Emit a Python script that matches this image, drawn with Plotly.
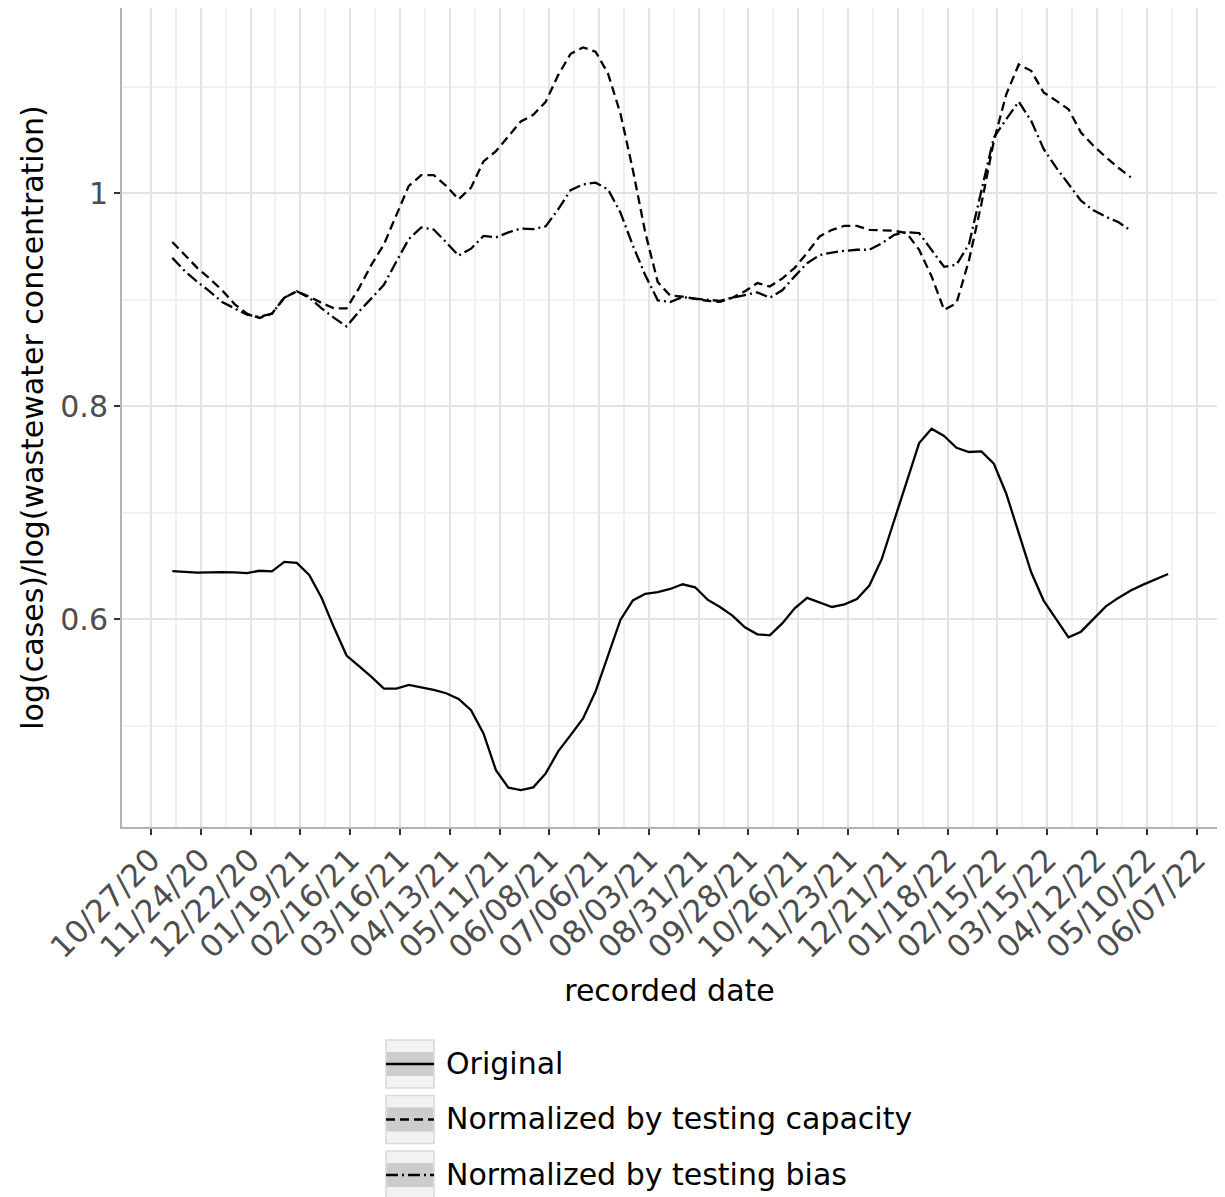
import pandas as pd
import plotly.graph_objects as go

# ---------------- data ----------------
start_date = "2020-11-08"          # first weekly observation
n_weeks_original = 81
n_weeks_normalized = 78

original = [
    0.6453, 0.6442, 0.6438, 0.6440, 0.6444, 0.6440, 0.6434, 0.6456, 0.6450, 0.6540,
    0.6530, 0.6416, 0.6200, 0.5920, 0.5660, 0.5560, 0.5460, 0.5350, 0.5350, 0.5384,
    0.5360, 0.5338, 0.5306, 0.5253, 0.5147, 0.4928, 0.4584, 0.4419, 0.4397, 0.4422,
    0.4553, 0.4760, 0.4913, 0.5069, 0.5322, 0.5656, 0.5994, 0.6178, 0.6240, 0.6256,
    0.6285, 0.6329, 0.6301, 0.6185, 0.6115, 0.6035, 0.5925, 0.5859, 0.5850, 0.5962,
    0.6103, 0.6201, 0.6160, 0.6116, 0.6141, 0.6191, 0.6317, 0.6567, 0.6930, 0.7304,
    0.7655, 0.7790, 0.7721, 0.7611, 0.7571, 0.7577, 0.7461, 0.7179, 0.6803, 0.6442,
    0.6176, 0.6003, 0.5831, 0.5884, 0.6000, 0.6122, 0.6201, 0.6270, 0.6326, 0.6379,
    0.6426,
]

capacity = [
    0.9543, 0.9420, 0.9300, 0.9200, 0.9090, 0.8960, 0.8870, 0.8830, 0.8870, 0.9020,
    0.9080, 0.9030, 0.8970, 0.8920, 0.8920, 0.9110, 0.9330, 0.9520, 0.9790, 1.0070,
    1.0170, 1.0170, 1.0070, 0.9944, 1.0053, 1.0300, 1.0395, 1.0535, 1.0675, 1.0737,
    1.0860, 1.1110, 1.1310, 1.1370, 1.1330, 1.1126, 1.0750, 1.0220, 0.9630, 0.9166,
    0.9040, 0.9030, 0.9010, 0.8990, 0.8980, 0.9020, 0.9080, 0.9157, 0.9125, 0.9200,
    0.9300, 0.9440, 0.9595, 0.9657, 0.9695, 0.9695, 0.9657, 0.9650, 0.9648, 0.9626,
    0.9470, 0.9220, 0.8906, 0.8969, 0.9370, 0.9900, 1.0490, 1.0930, 1.1210, 1.1150,
    1.0947, 1.0870, 1.0790, 1.0570, 1.0447, 1.0340, 1.0240, 1.0150,
]

bias = [
    0.9394, 0.9270, 0.9170, 0.9080, 0.8980, 0.8920, 0.8860, 0.8840, 0.8870, 0.9020,
    0.9080, 0.9020, 0.8920, 0.8830, 0.8750, 0.8890, 0.9020, 0.9140, 0.9360, 0.9570,
    0.9680, 0.9660, 0.9540, 0.9415, 0.9480, 0.9600, 0.9586, 0.9633, 0.9670, 0.9664,
    0.9690, 0.9850, 1.0030, 1.0084, 1.0100, 1.0037, 0.9820, 0.9510, 0.9230, 0.8995,
    0.8980, 0.9026, 0.9010, 0.9000, 0.8990, 0.9020, 0.9047, 0.9070, 0.9020, 0.9090,
    0.9220, 0.9344, 0.9420, 0.9444, 0.9460, 0.9470, 0.9470, 0.9530, 0.9610, 0.9635,
    0.9626, 0.9470, 0.9310, 0.9330, 0.9520, 1.0025, 1.0525, 1.0697, 1.0860, 1.0680,
    1.0416, 1.0244, 1.0088, 0.9930, 0.9840, 0.9780, 0.9730, 0.9650,
]

series_names = ["Original", "Normalized by testing capacity", "Normalized by testing bias"]

x_tick_dates = pd.date_range("2020-10-27", "2022-06-07", freq="28D")
x_tick_labels = [d.strftime("%m/%d/%y") for d in x_tick_dates]
x_minor_dates = pd.date_range("2020-11-10", "2022-05-24", freq="28D")
y_tick_vals = [0.6, 0.8, 1.0]
y_tick_labels = ["0.6", "0.8", "1"]
y_minor_vals = [0.5, 0.7, 0.9, 1.1]

x_title = "recorded date"
y_title = "log(cases)/log(wastewater concentration)"

# ---------------- styling ----------------
FONT = "DejaVu Sans"
OFF = 8                      # page body margin offset
W, H = 1225 - OFF, 1197 - OFF
ML, MT = 122 - OFF, 8 - OFF
PR, PB = 1217 - OFF, 827 - OFF   # plot right / bottom in figure px
MR, MB = W - PR, H - PB
PW, PH = PR - ML, PB - MT

dashes = ["solid", "9px,5px", "12px,4px,2px,4px"]
LW = 2.3

dates_orig = pd.date_range(start_date, periods=n_weeks_original, freq="7D")
dates_norm = dates_orig[:n_weeks_normalized]

fig = go.Figure()
for name, xs, ys, dash in zip(series_names,
                              [dates_orig, dates_norm, dates_norm],
                              [original, capacity, bias], dashes):
    fig.add_trace(go.Scatter(x=xs, y=ys, mode="lines", name=name,
                             line=dict(color="black", width=LW, dash=dash),
                             showlegend=False))


def px_x(px):
    # px given in reference-picture coordinates
    return (px - OFF - ML) / PW


def px_y(py):
    return (PB - (py - OFF)) / PH


# manual ggplot-style legend
shapes = []
annotations = []
key_tops = [1040, 1095.5, 1151]
for name, dash, top in zip(series_names, dashes, key_tops):
    bot = top + 48
    cy = (top + bot) / 2
    shapes.append(dict(type="rect", xref="paper", yref="paper",
                       x0=px_x(386), x1=px_x(434), y0=px_y(bot), y1=px_y(top),
                       fillcolor="#f2f2f2", line=dict(color="#d9d9d9", width=1.5)))
    shapes.append(dict(type="rect", xref="paper", yref="paper",
                       x0=px_x(386.8), x1=px_x(433.2), y0=px_y(cy + 12), y1=px_y(cy - 12),
                       fillcolor="#cccccc", line=dict(width=0)))
    shapes.append(dict(type="line", xref="paper", yref="paper",
                       x0=px_x(386), x1=px_x(434), y0=px_y(cy), y1=px_y(cy),
                       line=dict(color="black", width=LW, dash=dash)))
    annotations.append(dict(text=name, xref="paper", yref="paper",
                            x=px_x(444), y=px_y(cy - 1), xanchor="left", yanchor="middle",
                            showarrow=False, font=dict(family=FONT, size=30, color="black")))

axis_common = dict(
    showline=True, linecolor="#b3b3b3", linewidth=2, mirror=True,
    ticks="outside", ticklen=6, tickwidth=2, tickcolor="#333333",
    showgrid=True, gridcolor="#e3e3e3", gridwidth=2, zeroline=False,
)

fig.update_layout(
    width=W, height=H,
    margin=dict(l=ML, r=MR, t=MT, b=MB, autoexpand=False),
    paper_bgcolor="white", plot_bgcolor="white",
    font=dict(family=FONT, size=30, color="black"),
    xaxis=dict(
        type="date",
        range=["2020-10-10 17:00", "2022-06-18 12:00"],
        tickmode="array", tickvals=list(x_tick_dates), ticktext=x_tick_labels,
        tickangle=-45, ticklabelstandoff=-6,
        tickfont=dict(family=FONT, size=31, color="#4d4d4d"),
        minor=dict(tickmode="array", tickvals=list(x_minor_dates), showgrid=True,
                   gridcolor="#f1f1f1", gridwidth=1.5, ticks=""),
        title=dict(text=x_title, font=dict(family=FONT, size=30, color="black"), standoff=16),
        **axis_common,
    ),
    yaxis=dict(
        range=[0.405, 1.174],
        tickmode="array", tickvals=y_tick_vals, ticktext=y_tick_labels,
        tickfont=dict(family=FONT, size=30, color="#4d4d4d"),
        minor=dict(tickmode="array", tickvals=y_minor_vals, showgrid=True,
                   gridcolor="#f1f1f1", gridwidth=1.5, ticks=""),
        title=dict(text=y_title, font=dict(family=FONT, size=30, color="black"), standoff=8),
        **axis_common,
    ),
    shapes=shapes,
    annotations=annotations,
)

fig.write_html("out.html")
